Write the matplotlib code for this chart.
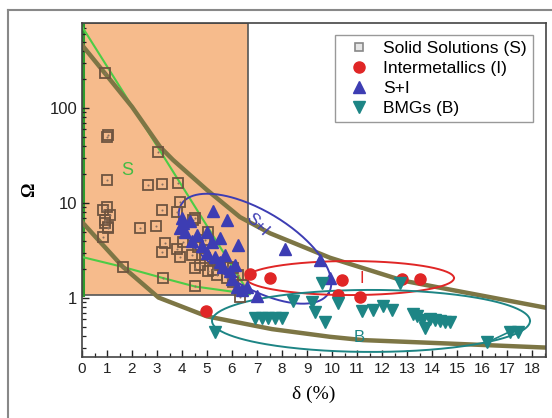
import numpy as np
import matplotlib
matplotlib.use('Agg')
import matplotlib.pyplot as plt
from matplotlib.patches import Rectangle
from matplotlib.lines import Line2D

# ---------------- data ----------------
ss_x = [0.92, 1.0, 1.05, 3.05, 1.0, 2.65, 3.2, 3.85, 3.9, 1.0, 0.85, 1.1, 0.92, 1.05,
        0.85, 3.2, 3.8, 4.5, 2.3, 2.95, 3.3, 3.8, 3.9, 3.2, 4.05, 4.4, 4.7, 4.5, 5.05,
        5.4, 5.8, 6.05, 6.25, 6.45, 6.3, 4.9, 1.64, 3.24, 4.52, 4.45, 5.05, 4.9, 4.65,
        5.5, 5.85, 6.05, 5.25, 0.92, 1.05]
ss_y = [234, 49, 52, 34.5, 17.5, 15.5, 15.8, 16.3, 10.3, 9.1, 8.4, 7.5, 6.6, 5.6,
        4.4, 8.5, 8.0, 7.0, 5.5, 5.7, 3.8, 3.3, 2.7, 3.05, 3.9, 2.85, 2.2, 2.07, 1.9,
        1.75, 1.62, 1.47, 1.75, 1.37, 1.02, 2.65, 2.12, 1.62, 1.34, 6.6, 4.95, 4.1, 3.45,
        2.33, 2.12, 2.07, 1.97, 6.2, 5.5]

im_x = [4.95, 6.7, 7.5, 10.4, 10.25, 11.1, 12.8, 13.5]
im_y = [0.73, 1.8, 1.62, 1.55, 1.07, 1.03, 1.58, 1.58]

si_x = [4.0, 4.05, 3.9, 4.1, 4.3, 4.6, 5.25, 5.8, 5.2, 4.8, 5.0, 5.3, 5.5, 5.65, 5.9,
        6.0, 6.2, 6.25, 6.4, 6.6, 7.0, 8.1, 9.5, 9.9, 4.4, 5.0, 5.5, 5.7, 6.1]
si_y = [7.0, 6.1, 5.5, 5.0, 6.5, 4.6, 8.2, 6.6, 3.9, 3.5, 3.0, 2.7, 2.4, 2.1, 1.9,
        1.6, 1.3, 3.6, 1.2, 1.3, 1.05, 3.3, 2.5, 1.62, 4.0, 5.0, 4.3, 2.8, 2.2]

bmg_x = [5.3, 6.9, 7.2, 7.45, 7.7, 8.0, 8.45, 9.2, 9.3, 9.6, 9.7, 10.25, 11.2, 11.65,
         12.05, 12.4, 12.7, 13.25, 13.4, 13.6, 13.7, 13.9, 14.1, 14.3, 14.5, 14.7,
         16.2, 17.1, 17.45]
bmg_y = [0.44, 0.62, 0.61, 0.61, 0.62, 0.62, 0.93, 0.91, 0.71, 1.44, 0.56, 0.89, 0.73,
         0.75, 0.82, 0.75, 1.44, 0.68, 0.64, 0.58, 0.48, 0.60, 0.58, 0.57, 0.56, 0.56,
         0.34, 0.44, 0.44]

# boundary curves
green_a_x = [0.0, 3.05, 6.7]
green_a_y = [720, 38, 1.1]
green_b_x = [0.0, 1.64, 3.24, 4.52, 6.7]
green_b_y = [2.7, 2.12, 1.62, 1.32, 1.1]
brown_a_x = [0.0, 1.0, 2.0, 3.12, 3.64, 5.0, 6.32, 7.52, 9.92, 12.85, 14.2, 18.6]
brown_a_y = [460, 218, 103, 39, 28.4, 13.7, 7.1, 4.8, 2.65, 1.52, 1.3, 0.785]
brown_b_x = [0.0, 1.64, 3.06, 5.0, 7.6, 9.92, 11.24, 14.2, 18.6]
brown_b_y = [6.3, 2.12, 1.01, 0.64, 0.47, 0.39, 0.36, 0.335, 0.30]

x_ticks = list(range(0, 19))
y_ticks = [1, 10, 100]
y_ticklabels = ['1', '10', '100']
legend_labels = ['Solid Solutions (S)', 'Intermetallics (I)', 'S+I', 'BMGs (B)']

# ---------------- figure ----------------
fig = plt.figure(figsize=(5.52, 4.18), dpi=100)
ax = fig.add_axes([82/552, 61/418, 464/552, 334/418])
ax.set_yscale('log')
ax.set_xlim(0, 18.56)
ax.set_ylim(0.239, 785)

ORANGE = '#f6bb8c'
BROWN = '#7d7645'
GREEN = '#4ccc46'
BLUE = '#3d3db3'
RED = '#e02626'
TEAL = '#1d8585'

ax.add_patch(Rectangle((0, 1.07), 6.65, 785 - 1.07, facecolor=ORANGE,
                       edgecolor='#555555', lw=1.2, zorder=0))
ax.plot([0.03, 0.03], [1.07, 785], color='#2e9a2e', lw=2.2, zorder=1)

ax.plot(green_a_x, green_a_y, color=GREEN, lw=1.5, zorder=2)
ax.plot(green_b_x, green_b_y, color=GREEN, lw=1.5, zorder=2)
ax.plot(brown_a_x, brown_a_y, color=BROWN, lw=3.2, zorder=2, solid_joinstyle='round')
ax.plot(brown_b_x, brown_b_y, color=BROWN, lw=3.2, zorder=2, solid_joinstyle='round')


def ellipse(cx, cy, a_px, b_px, ang_deg, **kw):
    c = ax.transData.transform((cx, cy))
    t = np.linspace(0, 2 * np.pi, 300)
    th = np.radians(ang_deg)
    ex = a_px * np.cos(t) * np.cos(th) - b_px * np.sin(t) * np.sin(th)
    ey = a_px * np.cos(t) * np.sin(th) + b_px * np.sin(t) * np.cos(th)
    pts = ax.transData.inverted().transform(np.column_stack([c[0] + ex, c[1] + ey]))
    ax.plot(pts[:, 0], pts[:, 1], **kw)


ellipse(6.92, 3.3, 86, 38, -31, color=BLUE, lw=1.4, zorder=3)
ellipse(10.72, 1.62, 104, 17, 0, color=RED, lw=1.4, zorder=3)
ellipse(11.56, 0.573, 159, 31, 0, color=TEAL, lw=1.4, zorder=3)
ax.plot(bmg_x[-3:], bmg_y[-3:], color=TEAL, lw=1.2, zorder=3)

ax.plot(ss_x, ss_y, ls='none', marker='s', ms=7.5, mfc='none', mec='#6e5440',
        mew=1.3, zorder=4)
ax.plot(ss_x, ss_y, ls='none', marker='o', ms=1.5, mfc='#8a7060', mec='none', zorder=4)
ax.plot(si_x, si_y, ls='none', marker='^', ms=8, mfc=BLUE, mec=BLUE, zorder=5)
ax.plot(im_x, im_y, ls='none', marker='o', ms=8, mfc=RED, mec=RED, zorder=5)
ax.plot(bmg_x, bmg_y, ls='none', marker='v', ms=8, mfc=TEAL, mec=TEAL, zorder=5)

ax.text(1.8, 22, 'S', color='#44bb44', fontsize=13, ha='center', va='center',
        family='Liberation Sans')
ax.text(7.0, 5.9, 'S+I', color=BLUE, fontsize=12, ha='center', va='center',
        rotation=-45, family='Liberation Sans')
ax.text(11.2, 1.62, 'I', color=RED, fontsize=12, ha='center', va='center',
        family='Liberation Sans')
ax.text(11.1, 0.38, 'B', color=TEAL, fontsize=12, ha='center', va='center',
        family='Liberation Sans')

ax.set_xticks(x_ticks)
ax.set_xticks(np.arange(0.5, 18.6, 1.0), minor=True)
ax.set_yticks(y_ticks)
ax.set_yticklabels(y_ticklabels)
ax.tick_params(which='both', direction='in', top=False, right=False,
               colors='#222222')
ax.tick_params(axis='x', labelsize=11)
ax.tick_params(axis='y', labelsize=12)
ax.tick_params(which='major', length=5, width=1)
ax.tick_params(which='minor', length=3, width=0.9)
for lab in ax.get_xticklabels() + ax.get_yticklabels():
    lab.set_family('Liberation Sans')
for s in ax.spines.values():
    s.set_color('#444444')
    s.set_linewidth(1.2)

ax.set_xlabel('δ (%)', fontsize=14, family='Liberation Serif', labelpad=7)
ax.set_ylabel('Ω', fontsize=13, family='Liberation Serif', fontweight='bold', labelpad=8)

handles = [
    Line2D([], [], ls='none', marker='s', ms=6, mfc='#e6e6e6', mec='#888888', mew=1.2),
    Line2D([], [], ls='none', marker='o', ms=8, mfc=RED, mec=RED),
    Line2D([], [], ls='none', marker='^', ms=8, mfc=BLUE, mec=BLUE),
    Line2D([], [], ls='none', marker='v', ms=8, mfc=TEAL, mec=TEAL),
]
leg = ax.legend(handles, legend_labels, loc='upper right', bbox_to_anchor=(0.99, 0.99),
                fancybox=False, edgecolor='#999999', framealpha=1,
                labelspacing=0.28, handletextpad=0.4, borderpad=0.35,
                prop={'family': 'Liberation Sans', 'size': 12.5})
leg.get_frame().set_linewidth(1.0)

fig.add_artist(Line2D([8/552, 8/552], [0, 1 - 10/418], transform=fig.transFigure,
                      color='#888888', lw=1.5))
fig.add_artist(Line2D([8/552, 1], [1 - 10/418, 1 - 10/418], transform=fig.transFigure,
                      color='#888888', lw=1.5))

fig.savefig('out.png', dpi=100)
